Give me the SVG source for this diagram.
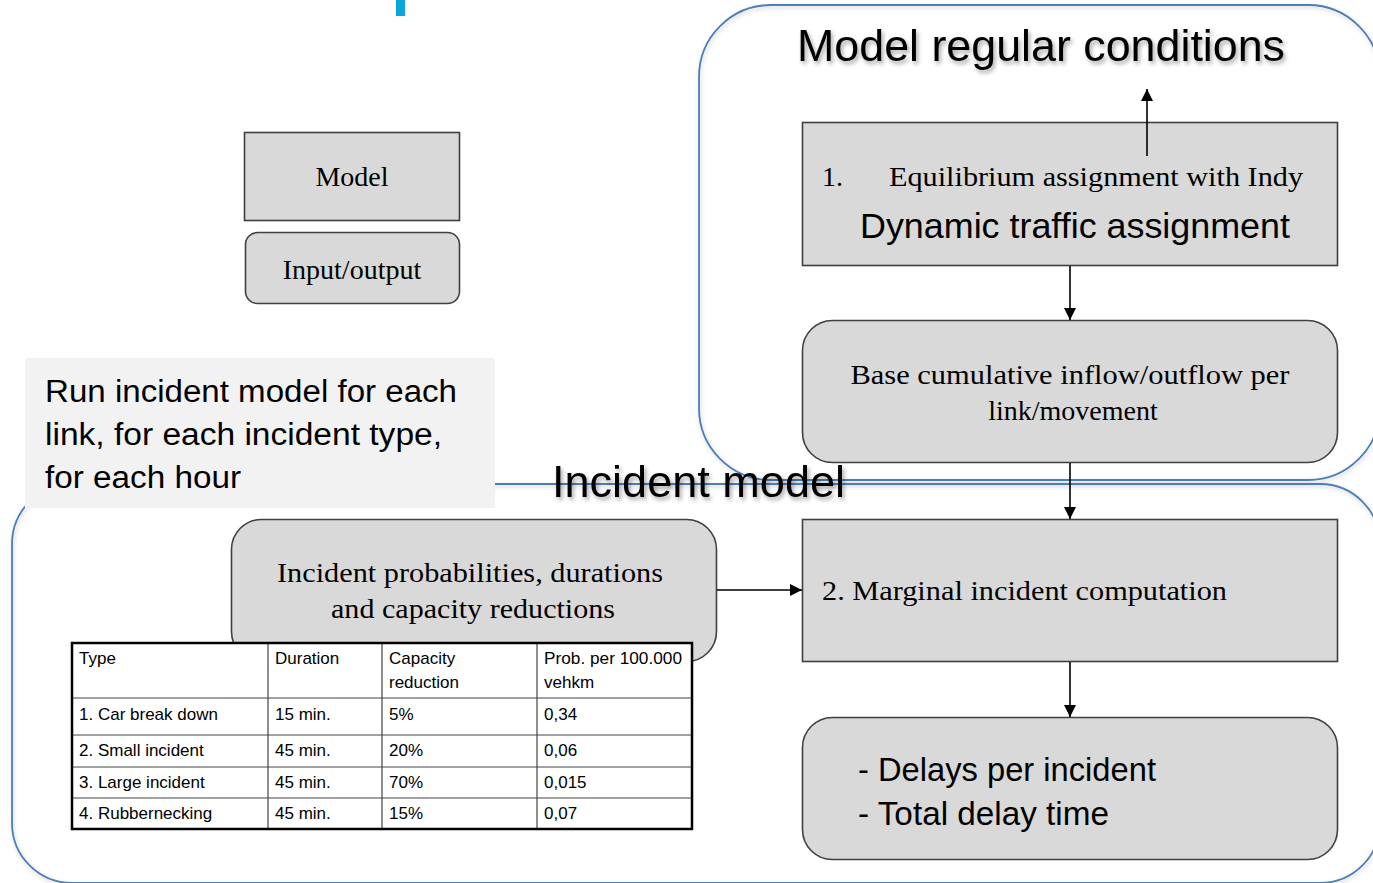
<svg xmlns="http://www.w3.org/2000/svg" width="1373" height="883" viewBox="0 0 1373 883">
<style>
.cont{fill:none;stroke:#4a7ebb;stroke-width:1.8}
.box{fill:#d9d9d9;stroke:#404040;stroke-width:1.6}
.serif{font-family:"Liberation Serif","Times New Roman",serif;fill:#000}
.sans{font-family:"Liberation Sans",Arial,sans-serif;fill:#000}
.title{font-family:"Liberation Sans",Arial,sans-serif;font-size:44px;fill:#000}
.tbl{font-family:"Liberation Sans",Arial,sans-serif;font-size:17px;fill:#000}
.conn{stroke:#000;stroke-width:1.6;fill:none}
.grid{stroke:#444;stroke-width:1.2}
</style>
<defs>
<marker id="arr" markerUnits="userSpaceOnUse" markerWidth="14" markerHeight="14" refX="12" refY="6" orient="auto">
<path d="M0,0 L12,6 L0,12 Z" fill="#000"/>
</marker>
<filter id="tsh" x="-10%" y="-20%" width="120%" height="150%">
<feDropShadow dx="2" dy="3" stdDeviation="2" flood-color="#000" flood-opacity="0.35"/>
</filter>
<filter id="csh" x="-5%" y="-5%" width="110%" height="110%">
<feDropShadow dx="1" dy="2" stdDeviation="2" flood-color="#000" flood-opacity="0.2"/>
</filter>
</defs>

<rect x="396" y="0" width="9" height="16" fill="#0ba5d9"/>

<g id="container-regular">
<rect class="cont" x="699" y="5" width="681" height="475" rx="72" filter="url(#csh)"/>
</g>
<g id="container-incident">
<rect class="cont" x="12" y="484" width="1368" height="399" rx="60" filter="url(#csh)"/>
</g>

<g id="note">
<rect x="25" y="358" width="470" height="150" fill="#f2f2f2"/>
<text class="sans" font-size="31" x="45" y="402" textLength="412" lengthAdjust="spacingAndGlyphs">Run incident model for each</text>
<text class="sans" font-size="31" x="45" y="445" textLength="397" lengthAdjust="spacingAndGlyphs">link, for each incident type,</text>
<text class="sans" font-size="31" x="45" y="488" textLength="196" lengthAdjust="spacingAndGlyphs">for each hour</text>
</g>

<g id="legend-model">
<rect class="box" x="244.5" y="132.5" width="215" height="88"/>
<text class="serif" font-size="28" x="352" y="186" text-anchor="middle">Model</text>
</g>
<g id="legend-io">
<rect class="box" x="245.5" y="232.5" width="214" height="71" rx="12"/>
<text class="serif" font-size="28" x="352" y="279" text-anchor="middle">Input/output</text>
</g>

<g id="node-dta">
<rect class="box" x="802.5" y="122.5" width="535" height="143"/>
<text class="serif" font-size="28" x="822" y="186">1.</text>
<text class="serif" font-size="28" x="889" y="186" textLength="414" lengthAdjust="spacingAndGlyphs">Equilibrium assignment with Indy</text>
<text class="sans" font-size="35" x="860" y="238" textLength="430" lengthAdjust="spacingAndGlyphs">Dynamic traffic assignment</text>
</g>

<g id="node-base">
<rect class="box" x="802.5" y="320.5" width="535" height="142" rx="30"/>
<text class="serif" font-size="28" x="1070" y="384" text-anchor="middle" textLength="439" lengthAdjust="spacingAndGlyphs">Base cumulative inflow/outflow per</text>
<text class="serif" font-size="28" x="1073" y="420" text-anchor="middle">link/movement</text>
</g>

<g id="node-marginal">
<rect class="box" x="802.5" y="519.5" width="535" height="142"/>
<text class="serif" font-size="28" x="822" y="600" textLength="405" lengthAdjust="spacingAndGlyphs">2. Marginal incident computation</text>
</g>

<g id="node-delays">
<rect class="box" x="802.5" y="717.5" width="535" height="142" rx="30"/>
<text class="sans" font-size="33" x="858" y="781" textLength="298" lengthAdjust="spacingAndGlyphs">- Delays per incident</text>
<text class="sans" font-size="33" x="858" y="825" textLength="251" lengthAdjust="spacingAndGlyphs">- Total delay time</text>
</g>

<g id="node-probabilities">
<rect class="box" x="231.5" y="519.5" width="485" height="142" rx="30"/>
<text class="serif" font-size="28" x="470" y="582" text-anchor="middle" textLength="386" lengthAdjust="spacingAndGlyphs">Incident probabilities, durations</text>
<text class="serif" font-size="28" x="473" y="618" text-anchor="middle" textLength="284" lengthAdjust="spacingAndGlyphs">and capacity reductions</text>
</g>

<g id="table">
<rect x="72" y="643" width="620" height="186" fill="#fff"/>
<line class="grid" x1="268" y1="643" x2="268" y2="829"/>
<line class="grid" x1="382" y1="643" x2="382" y2="829"/>
<line class="grid" x1="537" y1="643" x2="537" y2="829"/>
<line class="grid" x1="72" y1="698" x2="692" y2="698"/>
<line class="grid" x1="72" y1="735" x2="692" y2="735"/>
<line class="grid" x1="72" y1="767" x2="692" y2="767"/>
<line class="grid" x1="72" y1="798" x2="692" y2="798"/>
<rect x="72" y="643" width="620" height="186" fill="none" stroke="#000" stroke-width="2.5"/>
<text class="tbl" x="79" y="664">Type</text>
<text class="tbl" x="275" y="664">Duration</text>
<text class="tbl" x="389" y="664">Capacity</text>
<text class="tbl" x="389" y="688">reduction</text>
<text class="tbl" x="544" y="664" textLength="138" lengthAdjust="spacingAndGlyphs">Prob. per 100.000</text>
<text class="tbl" x="544" y="688">vehkm</text>
<text class="tbl" x="79" y="720">1. Car break down</text>
<text class="tbl" x="275" y="720">15 min.</text>
<text class="tbl" x="389" y="720">5%</text>
<text class="tbl" x="544" y="720">0,34</text>
<text class="tbl" x="79" y="756">2. Small incident</text>
<text class="tbl" x="275" y="756">45 min.</text>
<text class="tbl" x="389" y="756">20%</text>
<text class="tbl" x="544" y="756">0,06</text>
<text class="tbl" x="79" y="788">3. Large incident</text>
<text class="tbl" x="275" y="788">45 min.</text>
<text class="tbl" x="389" y="788">70%</text>
<text class="tbl" x="544" y="788">0,015</text>
<text class="tbl" x="79" y="819">4. Rubbernecking</text>
<text class="tbl" x="275" y="819">45 min.</text>
<text class="tbl" x="389" y="819">15%</text>
<text class="tbl" x="544" y="819">0,07</text>
</g>

<g id="connectors">
<line class="conn" x1="1147" y1="156" x2="1147" y2="89" marker-end="url(#arr)"/>
<line class="conn" x1="1070" y1="266" x2="1070" y2="320" marker-end="url(#arr)"/>
<line class="conn" x1="1070" y1="463" x2="1070" y2="519" marker-end="url(#arr)"/>
<line class="conn" x1="1070" y1="662" x2="1070" y2="717" marker-end="url(#arr)"/>
<line class="conn" x1="717" y1="590" x2="802" y2="590" marker-end="url(#arr)"/>
</g>

<g id="titles">
<text class="title" x="797" y="61" textLength="488" lengthAdjust="spacingAndGlyphs" filter="url(#tsh)">Model regular conditions</text>
<text class="title" x="552" y="497" textLength="293" lengthAdjust="spacingAndGlyphs" filter="url(#tsh)">Incident model</text>
</g>
</svg>
